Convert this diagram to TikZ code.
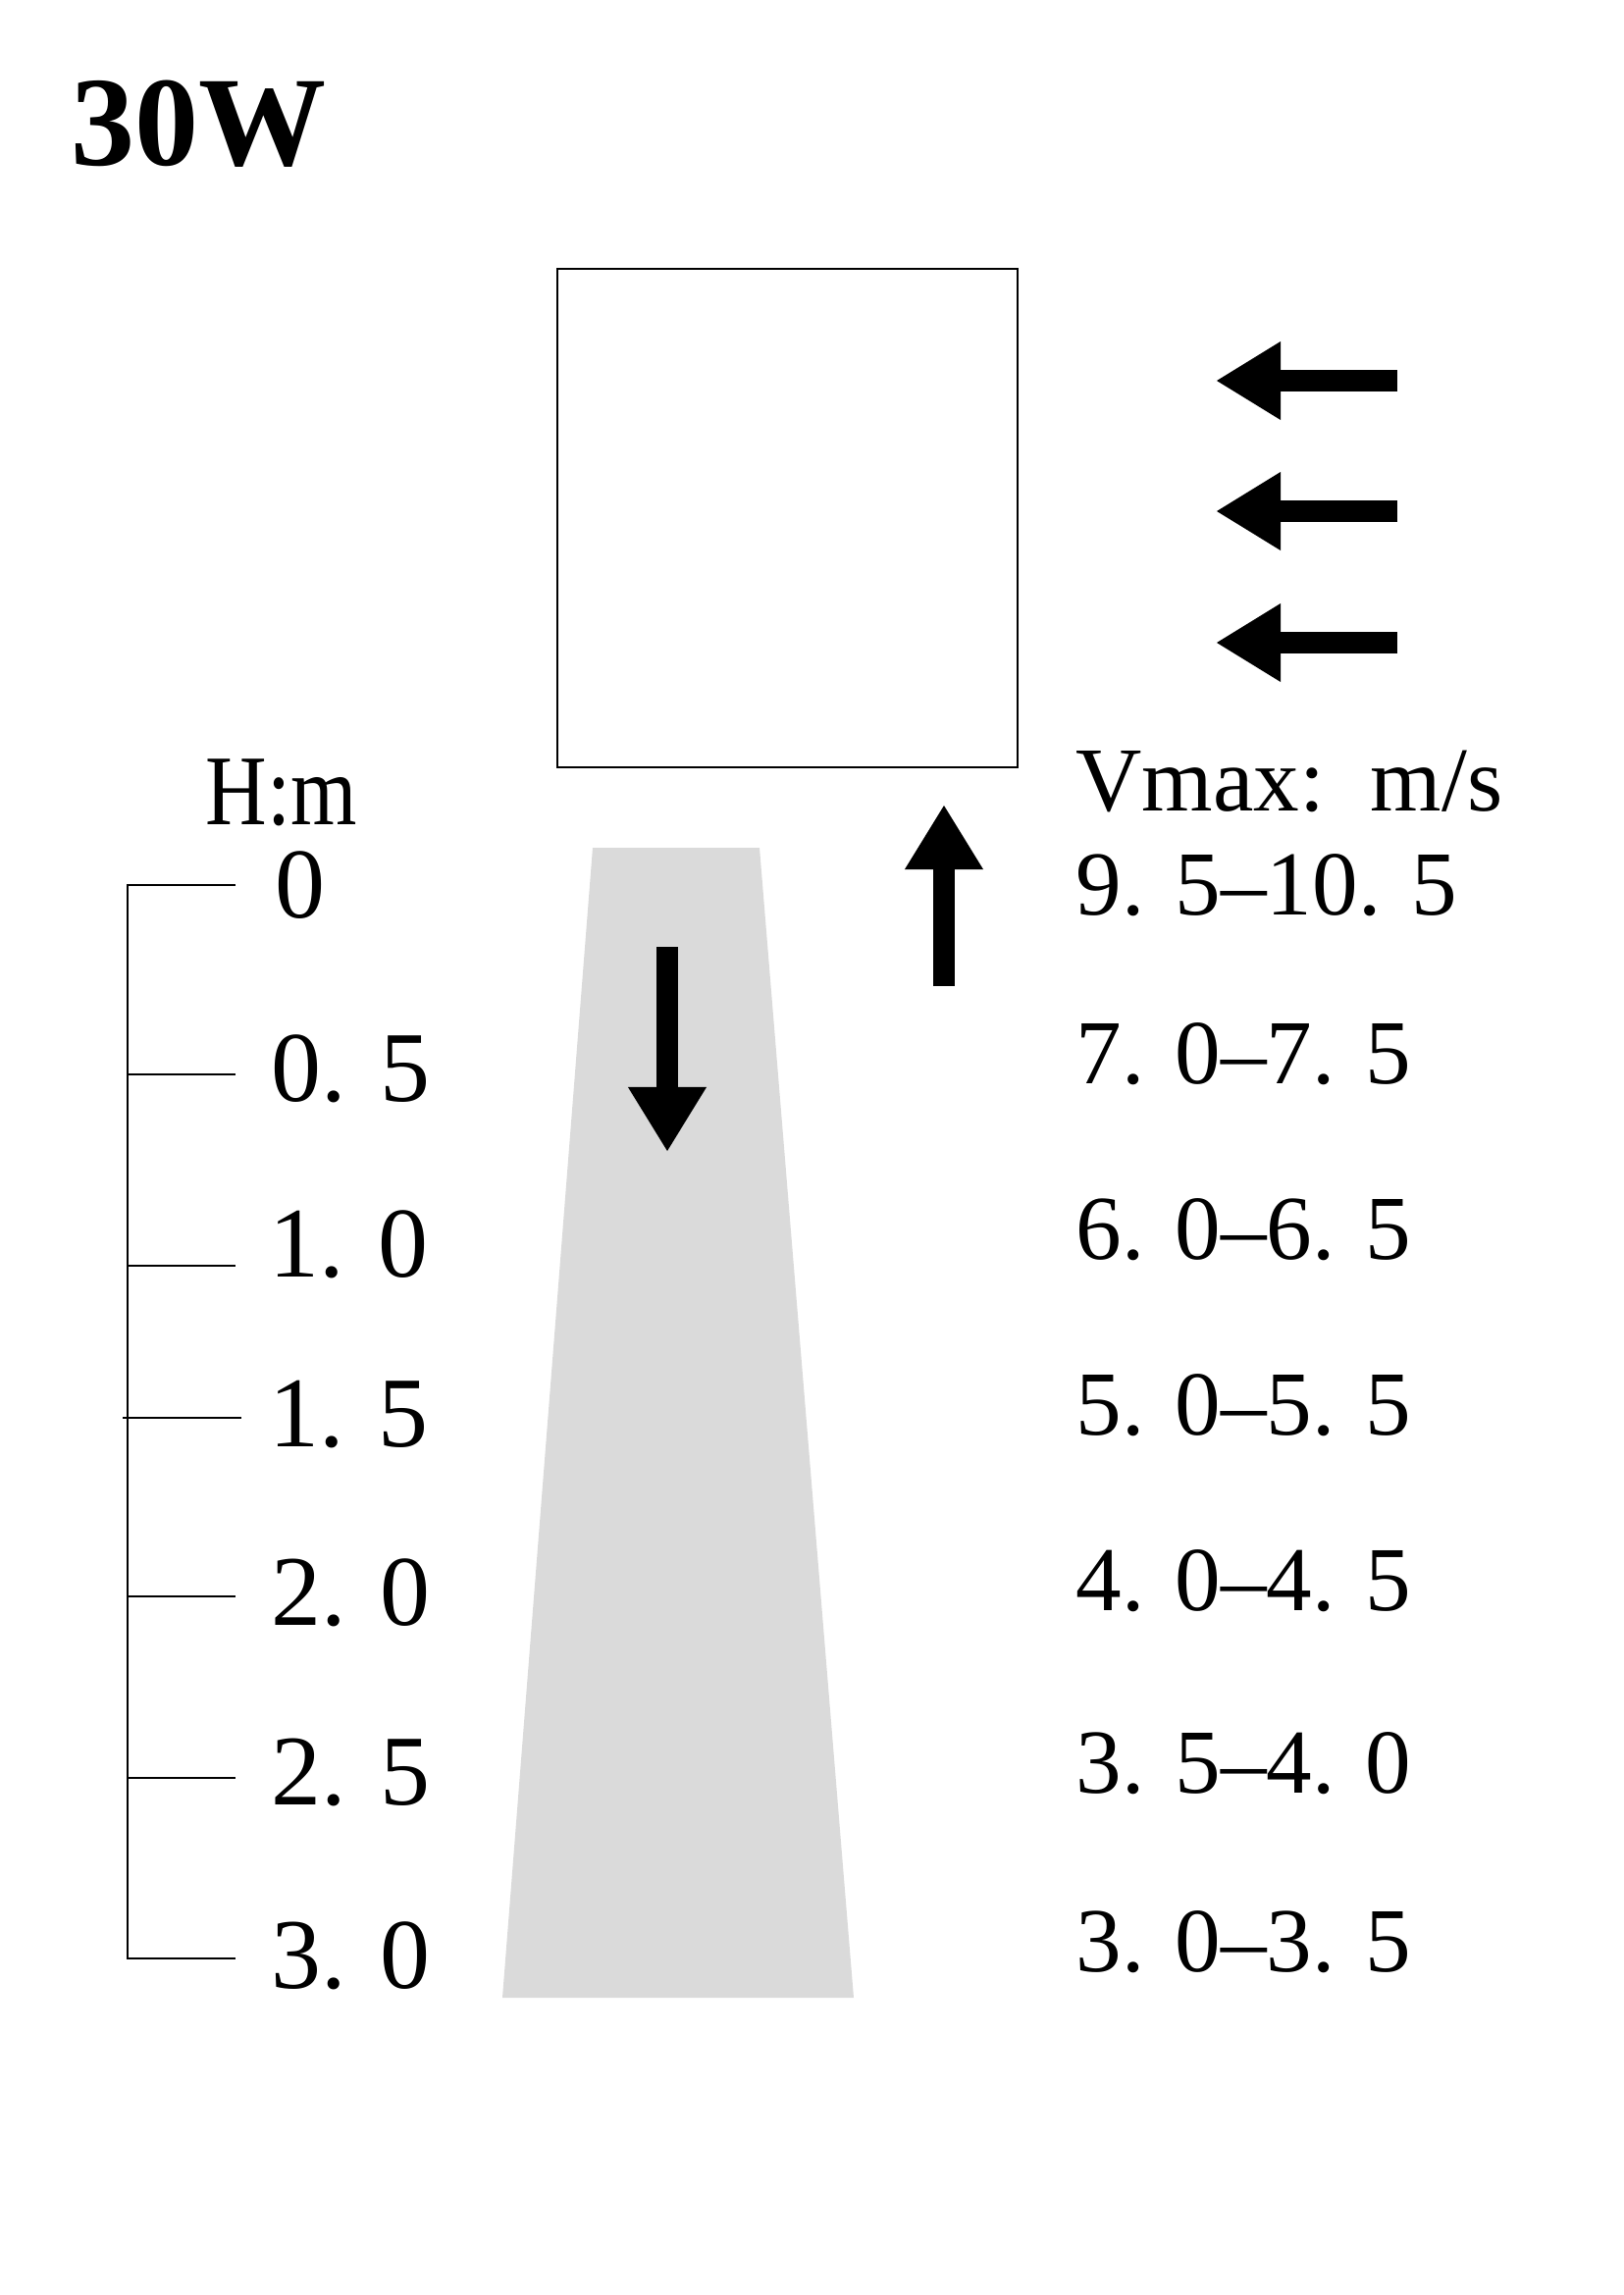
\documentclass[tikz,border=0pt]{standalone}
\usepackage{fontspec}
\setmainfont{Liberation Serif}
\usetikzlibrary{arrows.meta}
\definecolor{beamgray}{HTML}{DADADA}
\tikzset{
  scalelabel/.style={anchor=base west,inner sep=0pt,font=\fontsize{29}{29}\selectfont},
  speedlabel/.style={anchor=base west,inner sep=0pt,font=\fontsize{26.5}{26.5}\selectfont},
  flowarrow/.style={line width=6pt,-{Triangle[length=6.6mm,width=7.5mm]}},
  thinline/.style={line width=0.6pt},
}

\begin{document}
\begin{tikzpicture}[x=0.01cm,y=-0.01cm]
  \useasboundingbox (0,0) rectangle (1654,2339);

  % Title
  \node[anchor=base west,inner sep=0pt,font=\fontsize{37}{37}\selectfont\bfseries] (title) at (72,168) {30W};

  % Fixture and light beam
  \draw[thinline] (568,274) rectangle (1037,782);
  \fill[beamgray] (604,864) -- (774,864) -- (870,2036) -- (512,2036) -- cycle;

  % Air flow
  \draw[flowarrow] (1424,388) -- (1239,388);
  \draw[flowarrow] (1424,521) -- (1239,521);
  \draw[flowarrow] (1424,655) -- (1239,655);
  \draw[flowarrow] (962,1005) -- (962,820);
  \draw[flowarrow] (680,965) -- (680,1174);

  % Height scale
  \draw[thinline] (240,902) -- (130,902) -- (130,1996) -- (240,1996);
  \draw[thinline] (130,1095) -- (240,1095);
  \draw[thinline] (130,1290) -- (240,1290);
  \draw[thinline] (125,1445) -- (246,1445);
  \draw[thinline] (130,1627) -- (240,1627);
  \draw[thinline] (130,1812) -- (240,1812);

  \node[scalelabel] (hunit) at (209,840) {\scalebox{0.85}[1]{H:m}};
  \node[scalelabel] (h0) at (280,935) {0};
  \node[scalelabel] (h1) at (276,1122) {0. 5};
  \node[scalelabel] (h2) at (274,1301) {1. 0};
  \node[scalelabel] (h3) at (274,1474) {1. 5};
  \node[scalelabel] (h4) at (276,1656) {2. 0};
  \node[scalelabel] (h5) at (276,1839) {2. 5};
  \node[scalelabel] (h6) at (276,2026) {3. 0};

  % Speed labels
  \node[speedlabel] (vunit) at (1096,826) {Vmax:\ \ m/s};
  \node[speedlabel] (v0) at (1096,932) {9. 5--10. 5};
  \node[speedlabel] (v1) at (1096,1104) {7. 0--7. 5};
  \node[speedlabel] (v2) at (1096,1283) {6. 0--6. 5};
  \node[speedlabel] (v3) at (1096,1462) {5. 0--5. 5};
  \node[speedlabel] (v4) at (1096,1641) {4. 0--4. 5};
  \node[speedlabel] (v5) at (1096,1827) {3. 5--4. 0};
  \node[speedlabel] (v6) at (1096,2009) {3. 0--3. 5};
\end{tikzpicture}
\end{document}
